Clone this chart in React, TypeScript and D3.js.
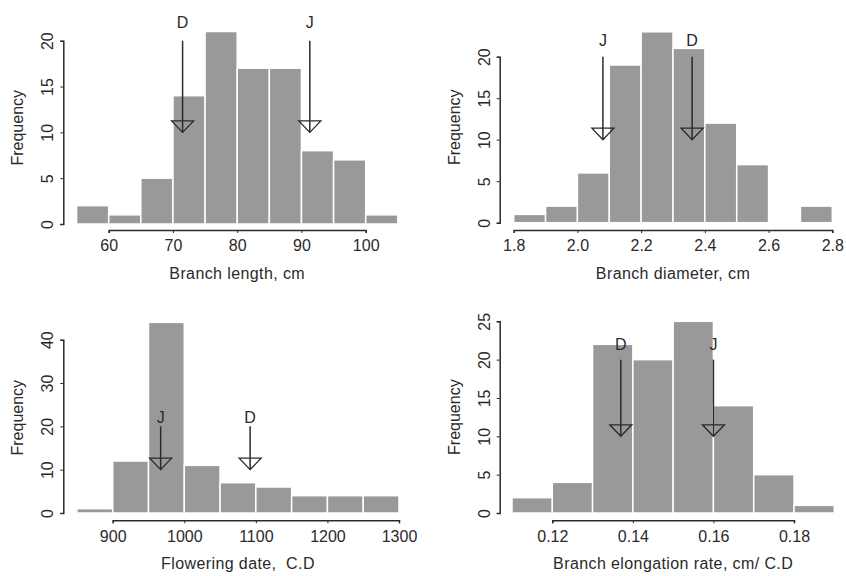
import { useEffect, useRef } from "react";
import * as d3 from "d3";

// histogram bins (edges) and counts
const lengthBins = [55, 60, 65, 70, 75, 80, 85, 90, 95, 100, 105];
const lengthCounts = [2, 1, 5, 14, 21, 17, 17, 8, 7, 1];
const lengthTicks = [60, 70, 80, 90, 100];
const lengthMarks = [
    { label: "D", value: 71.5 },
    { label: "J", value: 91.3 },
];

const diameterBins = [1.8, 1.9, 2.0, 2.1, 2.2, 2.3, 2.4, 2.5, 2.6, 2.7, 2.8];
const diameterCounts = [1, 2, 6, 19, 23, 21, 12, 7, 0, 2];
const diameterTicks = [1.8, 2.0, 2.2, 2.4, 2.6, 2.8];
const diameterMarks = [
    { label: "J", value: 2.08 },
    { label: "D", value: 2.36 },
];

const floweringBins = [850, 900, 950, 1000, 1050, 1100, 1150, 1200, 1250, 1300];
const floweringCounts = [1, 12, 44, 11, 7, 6, 4, 4, 4];
const floweringTicks = [900, 1000, 1100, 1200, 1300];
const floweringMarks = [
    { label: "J", value: 967 },
    { label: "D", value: 1092 },
];

const elongationBins = [0.11, 0.12, 0.13, 0.14, 0.15, 0.16, 0.17, 0.18, 0.19];
const elongationCounts = [2, 4, 22, 20, 25, 14, 5, 1];
const elongationTicks = [0.12, 0.14, 0.16, 0.18];
const elongationMarks = [
    { label: "D", value: 0.137 },
    { label: "J", value: 0.16 },
];

const panels = [
    {
        bins: lengthBins, counts: lengthCounts, xTicks: lengthTicks, yTicks: [0, 5, 10, 15, 20],
        marks: lengthMarks, xLabel: "Branch length, cm", fmt: "d",
        xRange: [108.7, 365.7], yRange: [224, 40.7], axisX: 63.3, axisY: 230,
    },
    {
        bins: diameterBins, counts: diameterCounts, xTicks: diameterTicks, yTicks: [0, 5, 10, 15, 20],
        marks: diameterMarks, xLabel: "Branch diameter, cm", fmt: ".1f",
        xRange: [513.7, 832.3], yRange: [222.7, 56.7], axisX: 499.7, axisY: 230,
    },
    {
        bins: floweringBins, counts: floweringCounts, xTicks: floweringTicks, yTicks: [0, 10, 20, 30, 40],
        marks: floweringMarks, xLabel: "Flowering date,  C.D", fmt: "d",
        xRange: [112.7, 399], yRange: [513, 339.7], axisX: 63.3, axisY: 520.3,
    },
    {
        bins: elongationBins, counts: elongationCounts, xTicks: elongationTicks, yTicks: [0, 5, 10, 15, 20, 25],
        marks: elongationMarks, xLabel: "Branch elongation rate, cm/ C.D", fmt: ".2f",
        xRange: [552.3, 794], yRange: [513, 321.3], axisX: 499.7, axisY: 520.3,
    },
];

const ink = "#2a2a2a";

export default function App() {
    const ref = useRef<SVGSVGElement>(null);

    useEffect(() => {
        const svg = d3.select(ref.current);
        svg.selectAll("*").remove();

        panels.forEach((p) => {
            const x = d3.scaleLinear()
                .domain([p.xTicks[0], p.xTicks[p.xTicks.length - 1]])
                .range(p.xRange);
            const y = d3.scaleLinear()
                .domain([p.yTicks[0], p.yTicks[p.yTicks.length - 1]])
                .range(p.yRange);

            const g = svg.append("g");

            // bars
            g.selectAll("rect")
                .data(p.counts)
                .join("rect")
                .attr("x", (_, i) => x(p.bins[i]))
                .attr("width", (_, i) => x(p.bins[i + 1]) - x(p.bins[i]))
                .attr("y", (d) => y(d))
                .attr("height", (d) => y(0) - y(d))
                .attr("fill", "#999999")
                .attr("stroke", "white")
                .attr("stroke-width", 1.5);

            // x axis
            const xa = g.append("g")
                .attr("transform", `translate(0,${p.axisY})`)
                .call(d3.axisBottom(x).tickValues(p.xTicks).tickFormat(d3.format(p.fmt)).tickSizeOuter(0).tickSize(3).tickPadding(7));
            xa.select(".domain").attr("stroke", ink).attr("stroke-width", 1.5);
            xa.selectAll("line").attr("stroke", ink);
            xa.selectAll("text").attr("fill", ink).style("font-size", "16px");

            // y axis, rotated labels
            const ya = g.append("g")
                .attr("transform", `translate(${p.axisX},0)`)
                .call(d3.axisLeft(y).tickValues(p.yTicks).tickSizeOuter(0).tickSize(3));
            ya.select(".domain").attr("stroke", ink).attr("stroke-width", 1.5);
            ya.selectAll("line").attr("stroke", ink);
            ya.selectAll("text")
                .attr("x", null)
                .attr("dy", null)
                .attr("text-anchor", "middle")
                .attr("transform", "translate(-10,0) rotate(-90)")
                .attr("fill", ink)
                .style("font-size", "16px");

            // axis titles
            const xMid = (p.bins[0] + p.bins[p.bins.length - 1]) / 2;
            g.append("text")
                .attr("x", x(xMid))
                .attr("y", p.axisY + 49)
                .attr("text-anchor", "middle")
                .attr("fill", ink)
                .style("font-size", "16px")
                .style("letter-spacing", "0.4px")
                .style("white-space", "pre")
                .text(p.xLabel);

            const yMid = (d3.max(p.counts) as number) / 2;
            g.append("text")
                .attr("transform", `translate(${p.axisX - 40},${y(yMid)}) rotate(-90)`)
                .attr("text-anchor", "middle")
                .attr("fill", ink)
                .style("font-size", "16px")
                .text("Frequency");

            // D / J markers
            const mk = g.selectAll("g.mark")
                .data(p.marks)
                .join("g")
                .attr("class", "mark")
                .attr("transform", (d) => `translate(${x(d.value)},0)`);
            mk.append("line")
                .attr("y1", y(20))
                .attr("y2", y(10))
                .attr("stroke", ink)
                .attr("stroke-width", 1.5);
            mk.append("path")
                .attr("d", `M-11,${y(10) - 11.5}L11,${y(10) - 11.5}L0,${y(10)}Z`)
                .attr("fill", "none")
                .attr("stroke", ink)
                .attr("stroke-width", 1.3);
            mk.append("text")
                .attr("y", y(22))
                .attr("dy", "0.36em")
                .attr("text-anchor", "middle")
                .attr("fill", ink)
                .style("font-size", "16px")
                .text((d) => d.label);
        });

        svg.selectAll("text").style("font-family", "'Liberation Sans', Arial, sans-serif");
    }, []);

    return (
        <svg
            ref={ref}
            width={846}
            height={576}
            style={{ position: "absolute", left: 0, top: 0, background: "white" }}
        />
    );
}
